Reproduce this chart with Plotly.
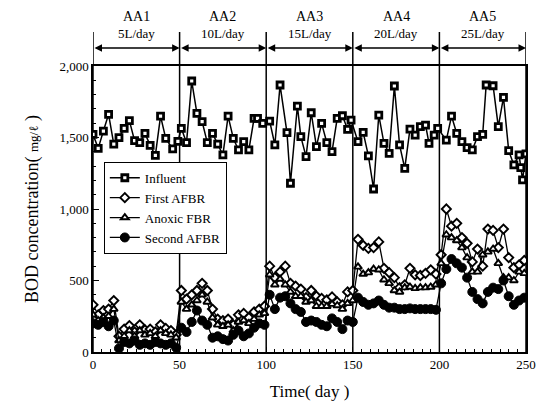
import plotly.graph_objects as go

# ---------------- data ----------------
infl_days = [0, 3, 6, 9, 12, 15, 18, 21, 24, 27, 30, 33, 36, 39, 42, 46, 49,
             51, 54, 57, 60, 63, 66, 69, 72, 75, 78, 81, 84, 87, 90, 93, 95, 98,
             102, 105, 108, 112, 114, 118, 120, 123, 126, 129, 132, 135, 138, 141, 144, 147, 149,
             153, 156, 159, 162, 165, 168, 171, 174, 177, 180, 183, 186, 189, 192, 194, 197, 199,
             204, 207, 210, 213, 216, 219, 222, 225, 227, 231, 234, 237, 240, 243, 246, 247, 248, 250]
influent = [1522, 1424, 1545, 1662, 1454, 1499, 1564, 1618, 1478, 1464, 1529, 1445, 1375, 1650, 1494, 1420, 1473,
            1564, 1464, 1895, 1669, 1611, 1464, 1529, 1454, 1378, 1650, 1494, 1413, 1471, 1413, 1634, 1634, 1599,
            1615, 1448, 1867, 1534, 1180, 1720, 1506, 1366, 1673, 1436, 1599, 1464, 1401, 1634, 1652, 1557, 1622,
            1471, 1536, 1371, 1140, 1657, 1459, 1389, 1860, 1448, 1284, 1559, 1517, 1576, 1587, 1459, 1517, 1564,
            1482, 1650, 1529, 1471, 1429, 1413, 1506, 1522, 1867, 1862, 1576, 1781, 1408, 1308, 1378, 1290, 1203, 1385]

eff_days = list(range(0, 250, 3))
first_afbr = [330, 260, 290, 300, 360, 110, 160, 185, 140, 190, 155, 160, 140, 190, 165, 150, 120,
              430, 370, 400, 430, 480, 430, 300, 230, 220, 230, 190, 260, 270, 240, 280, 300, 320,
              600, 520, 560, 600, 480, 460, 440, 380, 430, 390, 375, 365, 385, 350, 330, 420, 430,
              788, 745, 725, 730, 770, 585, 555, 520, 450, 470, 585, 540, 535, 550, 575, 545,
              680, 1000, 880, 900, 800, 760, 630, 720, 600, 860, 850, 730, 860, 660, 590, 610, 640]
anoxic_fbr = [260, 220, 240, 250, 300, 80, 110, 150, 110, 150, 120, 130, 110, 150, 130, 120, 100,
              350, 300, 330, 360, 400, 350, 240, 190, 180, 190, 150, 210, 220, 200, 230, 260, 270,
              540, 470, 510, 470, 420, 390, 390, 350, 360, 320, 320, 320, 335, 325, 300, 340, 360,
              595, 545, 555, 580, 575, 505, 480, 430, 420, 450, 455, 445, 450, 450, 455, 470,
              620, 820, 800, 780, 730, 660, 560, 560, 680, 700, 720, 620, 520, 520, 500, 560, 550]
second_afbr = [200, 190, 210, 180, 220, 25, 70, 60, 80, 50, 60, 50, 70, 60, 50, 60, 30,
               170, 140, 210, 290, 220, 190, 100, 110, 90, 80, 120, 150, 110, 130, 170, 200, 190,
               400, 300, 380, 390, 340, 300, 280, 210, 220, 210, 190, 180, 235, 210, 160, 220, 210,
               380, 350, 330, 340, 360, 330, 310, 310, 300, 300, 305, 300, 300, 300, 300, 295,
               480, 580, 650, 620, 590, 520, 420, 370, 340, 420, 450, 440, 500, 390, 330, 360, 380]

phase_bounds = [0, 50, 100, 150, 200, 250]
phase_names = ["AA1", "AA2", "AA3", "AA4", "AA5"]
phase_rates = ["5L/day", "10L/day", "15L/day", "20L/day", "25L/day"]
y_ticks = [0, 500, 1000, 1500, 2000]
x_ticks = [0, 50, 100, 150, 200, 250]

FONT = "Liberation Serif"

fig = go.Figure()

fig.add_trace(go.Scatter(x=infl_days, y=influent, name="Influent", mode="lines+markers",
                         line=dict(color="black", width=1.5),
                         marker=dict(symbol="square", size=6, color="white",
                                     line=dict(color="black", width=2.8))))
fig.add_trace(go.Scatter(x=eff_days, y=first_afbr, name="First AFBR", mode="lines+markers",
                         line=dict(color="black", width=1.3),
                         marker=dict(symbol="diamond", size=7, color="white",
                                     line=dict(color="black", width=1.9))))
fig.add_trace(go.Scatter(x=eff_days, y=anoxic_fbr, name="Anoxic FBR", mode="lines+markers",
                         line=dict(color="black", width=1.3),
                         marker=dict(symbol="triangle-up", size=7, color="white",
                                     line=dict(color="black", width=1.9))))
fig.add_trace(go.Scatter(x=eff_days, y=second_afbr, name="Second AFBR", mode="lines+markers",
                         line=dict(color="black", width=1.3),
                         marker=dict(symbol="circle", size=9, color="black",
                                     line=dict(color="black", width=1))))

# vertical phase lines (extend above plot)
for b in phase_bounds:
    fig.add_shape(type="line", xref="x", yref="paper", x0=b, x1=b, y0=0, y1=1.119,
                  line=dict(color="black", width=1.5), layer="below")

# arrows between phases and phase labels
for i in range(5):
    a, b = phase_bounds[i], phase_bounds[i + 1]
    fig.add_annotation(x=b, y=1.063, xref="x", yref="paper", ax=a, ay=0, axref="x", ayref="pixel",
                       showarrow=True, arrowhead=2, startarrowhead=2, arrowside="end+start",
                       arrowsize=1, arrowwidth=1.5, arrowcolor="black", text="")
    mid = (a + b) / 2
    fig.add_annotation(x=mid, y=1.14, xref="x", yref="paper", text=phase_names[i], showarrow=False,
                       font=dict(family=FONT, size=14, color="black"), yanchor="bottom")
    fig.add_annotation(x=mid, y=1.08, xref="x", yref="paper", text=phase_rates[i], showarrow=False,
                       font=dict(family=FONT, size=13, color="black"), yanchor="bottom")

fig.update_layout(
    width=539, height=402,
    margin=dict(l=85, r=21, t=58, b=58),
    plot_bgcolor="white", paper_bgcolor="white",
    font=dict(family=FONT, size=13, color="black"),
    showlegend=True,
    legend=dict(x=0.025, y=0.665, xanchor="left", yanchor="top",
                bordercolor="black", borderwidth=1, bgcolor="white",
                font=dict(family=FONT, size=13, color="black"),
                tracegroupgap=0, itemwidth=30),
    xaxis=dict(range=[0, 250], tickvals=x_ticks, ticks="inside", ticklen=5, tickwidth=1,
               tickcolor="black", showline=True, linecolor="black", linewidth=1.5, mirror=True,
               showgrid=False, zeroline=False,
               minor=dict(dtick=5, ticks="inside", ticklen=3, tickcolor="black"),
               title=dict(text="Time( day )", font=dict(family=FONT, size=17), standoff=14),
               tickfont=dict(family=FONT, size=13)),
    yaxis=dict(range=[0, 2000], tickvals=y_ticks, tickformat=",", ticks="inside", ticklen=6,
               tickwidth=1, tickcolor="black", showline=True, linecolor="black", linewidth=1.5,
               mirror=True, showgrid=False, zeroline=False,
               minor=dict(dtick=100, ticks="inside", ticklen=3, tickcolor="black"),
               title=dict(text="BOD concentration( <span style='font-size:13px'>mg/ℓ</span> )",
                          font=dict(family=FONT, size=18), standoff=16),
               tickfont=dict(family=FONT, size=13)),
)

fig.write_html("out.html")
